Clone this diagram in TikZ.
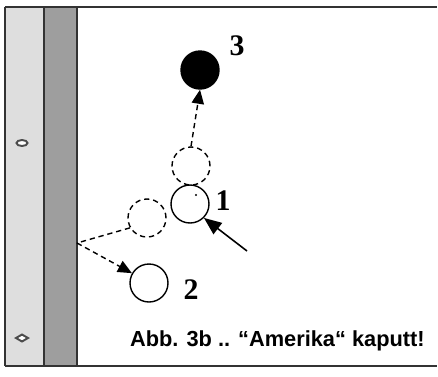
\documentclass[tikz,border=0pt]{standalone}
\usepackage{fontspec}
\setsansfont{Liberation Sans}
\newfontfamily\numfont{Liberation Serif}
\usetikzlibrary{
    arrows.meta,
    shapes.geometric,
    positioning
}
\definecolor{railLight}{gray}{0.87}
\definecolor{railDark}{gray}{0.62}
\tikzset{
    ball/.style={circle, draw=black, line width=0.8pt, inner sep=0pt, minimum size=0.76cm},
    ghost/.style={ball, dash pattern=on 3pt off 2.2pt},
    balllabel/.style={font=\numfont\bfseries\fontsize{17}{17}\selectfont, inner sep=0pt},
    path/.style={dash pattern=on 3pt off 2.2pt, line width=0.8pt, -{Triangle[length=8pt, width=7pt]}},
    marker/.style={draw=black!70, fill=white, line width=1.1pt}
}

\begin{document}
\begin{tikzpicture}[x=0.02cm, y=-0.02cm]
    \useasboundingbox (0, 0) rectangle (438, 376);
    % rail
    \fill[railLight] (5, 7) rectangle (44, 366);
    \fill[railDark] (44, 7) rectangle (77, 366);
    \draw[line width=0.9pt, black!80]
    (5, 7) -- (437, 7)
    (5, 366) -- (437, 366)
    (5, 7) -- (5, 366)
    (44, 7) -- (44, 366)
    (77, 7) -- (77, 366);
    \draw[marker] (22, 143) ellipse [x radius=5.5, y radius=3];
    \draw[marker] (22, 334.5) -- (28, 338) -- (22, 341.5) -- (16, 338) -- cycle;
    % balls
    \node[ball, fill=black] (b3) at (200, 70) {};
    \node[ball] (b1) at (190, 204) {};
    \node[ghost] (g1) at (191, 166) {};
    \node[ghost] (g2) at (147, 218) {};
    \node[ball] (b2) at (149, 283) {};
    \fill (b1.center) ++(6, -9) circle (0.7pt);
    \node[balllabel] (l3) at (237, 46) {3};
    \node[balllabel] (l1) at (223, 201) {1};
    \node[balllabel] (l2) at (191, 290) {2};
    % ways
    \coordinate (cue) at (247, 251);
    \coordinate (rail) at (77, 243);
    \draw[line width=0.9pt, -{Triangle[length=10pt, width=8pt]}] (cue) -- (b1.-45);
    \draw[path] (g1.north) -- (b3.south);
    \draw[dash pattern=on 3pt off 2.2pt, line width=0.8pt] (g2.-150) -- (rail);
    \draw[path] (rail) -- (b2.150);
    \node[font=\sffamily\bfseries\fontsize{12.4}{13}\selectfont, anchor=east, inner sep=0pt] (caption) at (425, 341) {Abb. 3b .. “Amerika“ kaputt!};
\end{tikzpicture}
\end{document}
